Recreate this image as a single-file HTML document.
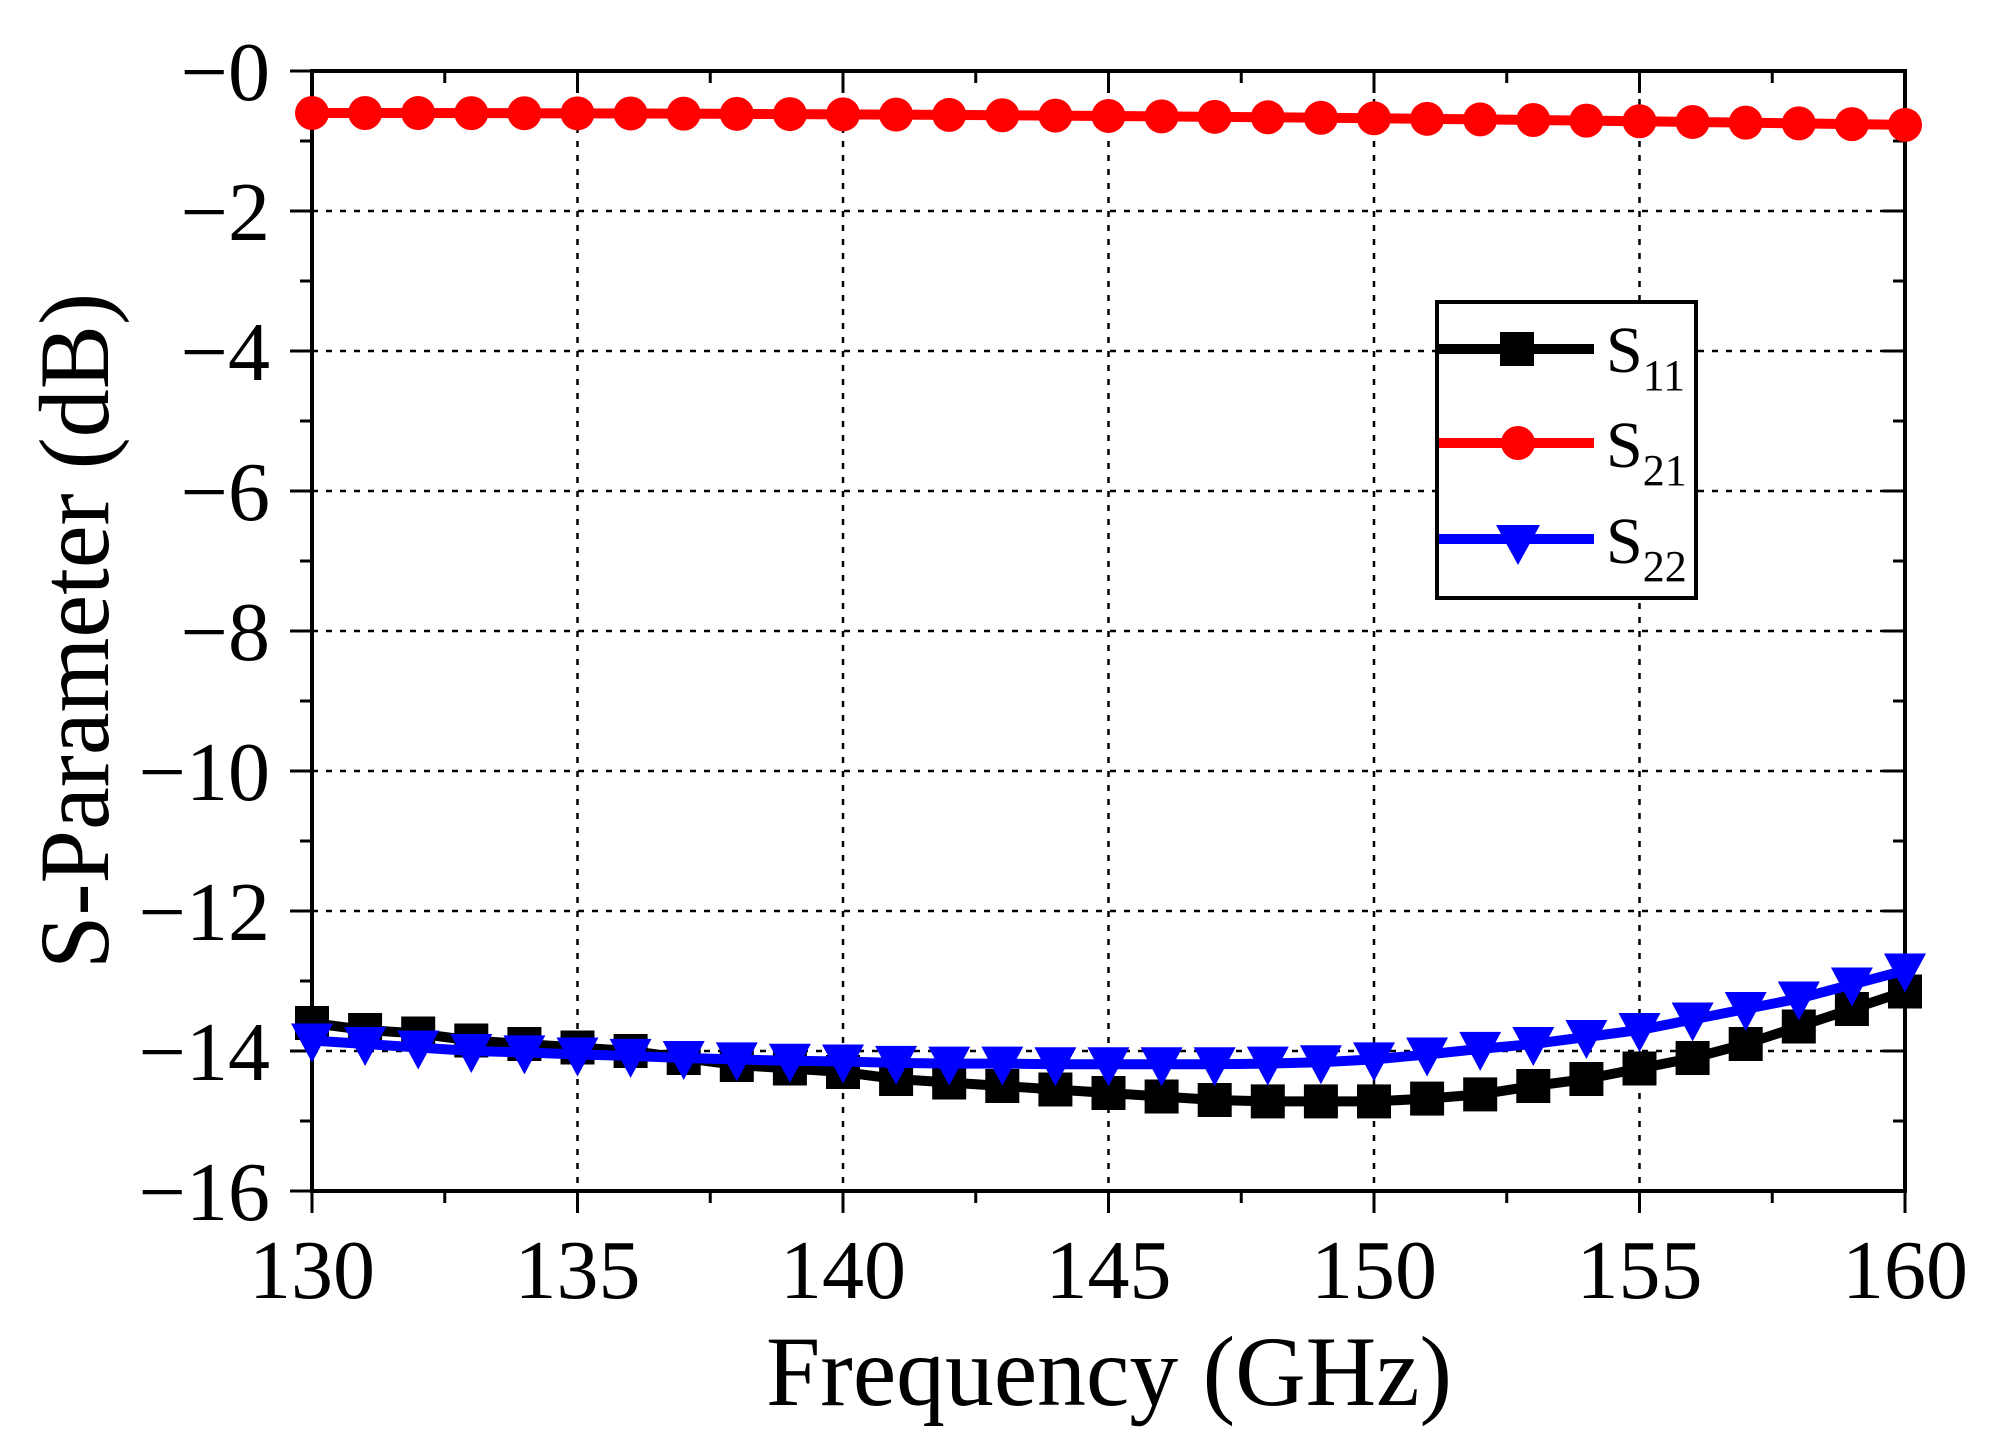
<!DOCTYPE html>
<html><head><meta charset="utf-8"><style>
html,body{margin:0;padding:0;background:#fff;}
svg{display:block;font-family:"Liberation Serif",serif;}
</style></head><body>
<svg id="c" width="1998" height="1448" xmlns="http://www.w3.org/2000/svg">
<g id="grid" stroke="#000" stroke-width="2.5" stroke-dasharray="6,8"></g>
<g id="ax"></g>
<g id="series"></g>
<rect x="1437" y="302" width="259" height="296" fill="#fff" stroke="#000" stroke-width="4"/>
<line x1="1439" y1="349" x2="1594" y2="349" stroke="#000" stroke-width="10"/>
<rect x="1500" y="332" width="34" height="34" fill="#000"/>
<line x1="1439" y1="443" x2="1594" y2="443" stroke="#f00" stroke-width="10"/>
<circle cx="1518" cy="443" r="17" fill="#f00"/>
<line x1="1439" y1="539" x2="1594" y2="539" stroke="#00f" stroke-width="10"/>
<polygon points="1496,525 1540,525 1518,565" fill="#00f"/>
<text x="1606" y="372" font-size="66">S<tspan font-size="44" dy="18">11</tspan></text>
<text x="1606" y="467" font-size="66">S<tspan font-size="44" dy="18">21</tspan></text>
<text x="1606" y="563" font-size="66">S<tspan font-size="44" dy="18">22</tspan></text>
<text x="766" y="1405" font-size="100" textLength="686" lengthAdjust="spacingAndGlyphs">Frequency (GHz)</text>
<text transform="translate(108,631) rotate(-90)" font-size="100" x="-338" textLength="676" lengthAdjust="spacingAndGlyphs">S-Parameter (dB)</text>
</svg>
<script>
const L=312,R=1905,T=71,B=1191;
const X=f=>L+(f-130)*(R-L)/30, Y=v=>T+(-v)*(B-T)/16;
const ns="http://www.w3.org/2000/svg";
function el(p,t,a,txt){const e=document.createElementNS(ns,t);for(const k in a)e.setAttribute(k,a[k]);if(txt!==undefined)e.textContent=txt;p.appendChild(e);return e;}
const g=document.getElementById('grid'),ax=document.getElementById('ax'),s=document.getElementById('series');
for(let f=135;f<160;f+=5)el(g,'line',{x1:X(f),y1:T,x2:X(f),y2:B});
for(let v=-2;v>-16;v-=2)el(g,'line',{x1:L,y1:Y(v),x2:R,y2:Y(v)});
el(ax,'rect',{x:L,y:T,width:R-L,height:B-T,fill:'none',stroke:'#000','stroke-width':4});
for(let f=130;f<=160;f+=2.5){const maj=(f%5===0);
 el(ax,'line',{x1:X(f),y1:B,x2:X(f),y2:B+(maj?22:12),stroke:'#000','stroke-width':3});
 el(ax,'line',{x1:X(f),y1:T,x2:X(f),y2:T+(maj?22:12),stroke:'#000','stroke-width':3});
 if(maj)el(ax,'text',{x:X(f),y:1298,'font-size':84,'text-anchor':'middle'},String(f));}
for(let v=0;v>=-16;v--){const maj=(v%2===0);
 el(ax,'line',{x1:L-(maj?22:12),y1:Y(v),x2:L,y2:Y(v),stroke:'#000','stroke-width':3});
 el(ax,'line',{x1:R-(maj?22:12),y1:Y(v),x2:R,y2:Y(v),stroke:'#000','stroke-width':3});
 if(maj)el(ax,'text',{x:270,y:Y(v)+29,'font-size':84,'text-anchor':'end'},'\u2212'+(-v));}
const s21=[],s11=[-13.6,-13.7,-13.75,-13.85,-13.9,-13.95,-14.0,-14.1,-14.2,-14.25,-14.3,-14.4,-14.45,-14.5,-14.55,-14.6,-14.65,-14.7,-14.72,-14.72,-14.72,-14.68,-14.62,-14.5,-14.4,-14.25,-14.1,-13.9,-13.65,-13.4,-13.15];
const s22=[-13.85,-13.9,-13.95,-14.0,-14.02,-14.05,-14.07,-14.1,-14.12,-14.14,-14.15,-14.17,-14.18,-14.18,-14.19,-14.19,-14.19,-14.19,-14.18,-14.16,-14.12,-14.05,-13.97,-13.9,-13.8,-13.7,-13.55,-13.4,-13.25,-13.05,-12.85];
for(let i=0;i<=30;i++)s21.push(-0.6-0.17*Math.pow(i/30,2));
function line(d,c){el(s,'polyline',{points:d.map((v,i)=>X(130+i)+','+Y(v)).join(' '),fill:'none',stroke:c,'stroke-width':10});}
line(s11,'#000');
s11.forEach((v,i)=>el(s,'rect',{x:X(130+i)-17,y:Y(v)-17,width:34,height:34,fill:'#000'}));
line(s22,'#00f');
s22.forEach((v,i)=>{const x=X(130+i),y=Y(v);el(s,'polygon',{points:`${x-21},${y-17} ${x+21},${y-17} ${x},${y+22}`,fill:'#00f'});});
line(s21,'#f00');
s21.forEach((v,i)=>el(s,'circle',{cx:X(130+i),cy:Y(v),r:17,fill:'#f00'}));
</script>
</body></html>
